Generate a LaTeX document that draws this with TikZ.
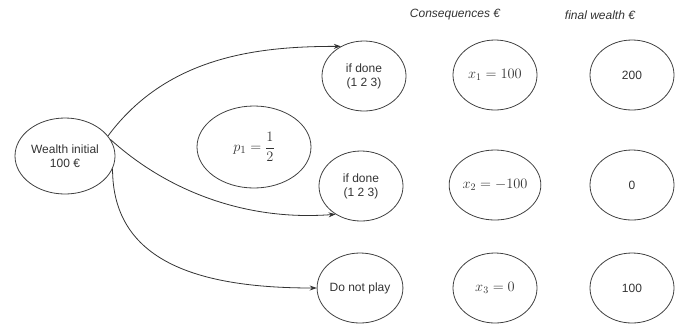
\documentclass[tikz,border=0pt]{standalone}
\usepackage{amsmath}
\usepackage[no-math]{fontspec}
\setmainfont{Liberation Sans}
\usepackage{tikz}
\usetikzlibrary{arrows.meta,positioning,shapes.geometric}

\begin{document}
\begin{tikzpicture}[
    x=1pt, y=-1pt,
    every node/.style={text=black!80, font=\fontsize{12}{14}\selectfont},
    state/.style={draw=black!75, line width=0.8pt, ellipse, minimum width=84pt, minimum height=70pt, inner sep=0pt, align=center},
    big/.style={state, minimum width=100pt, minimum height=76pt},
    prob/.style={state, minimum width=114pt, minimum height=82pt},
    mathnode/.style={font=\fontsize{14}{17}\selectfont},
    header/.style={font=\fontsize{12}{14}\selectfont\itshape},
    link/.style={draw=black!80, line width=0.8pt, -{Stealth[length=7pt,width=5pt]}}
]
\useasboundingbox (0,0) rectangle (679,325);

% headers
\node[header] (hcons) at (455,15) {Consequences €};
\node[header] (hfinal) at (600,15) {final wealth €};

% start and outcome
\node[big] (wealth) at (65,156) {Wealth initial\\100 €};
\node[prob, font=\fontsize{15}{18}\selectfont] (prob) at (254,147) {$p_1=\dfrac{1}{2}$};
\node[state] (done1) at (364,76) {if done\\(1 2 3)};
\node[state] (done2) at (361,186) {if done\\(1 2 3)};
\node[state] (noplay) at (360,288) {Do not play};

% consequences
\node[state, mathnode] (cons1) at (495,75) {$x_1=100$};
\node[state, mathnode] (cons2) at (495,185) {$x_2=-100$};
\node[state, mathnode] (cons3) at (495,288) {$x_3=0$};

% final wealth
\node[state] (final1) at (632,75) {200};
\node[state] (final2) at (632,185) {0};
\node[state] (final3) at (632,288) {100};

% choices
\draw[link] (wealth.25) .. controls +(60,-81) and +(-80,0) .. (done1.128);
\draw[link] (wealth.20) .. controls +(55,50) and +(-92,7) .. (done2.228);
\draw[link] (wealth.-15) .. controls +(0,92) and +(-120,0) .. (noplay.west);

\end{tikzpicture}
\end{document}
